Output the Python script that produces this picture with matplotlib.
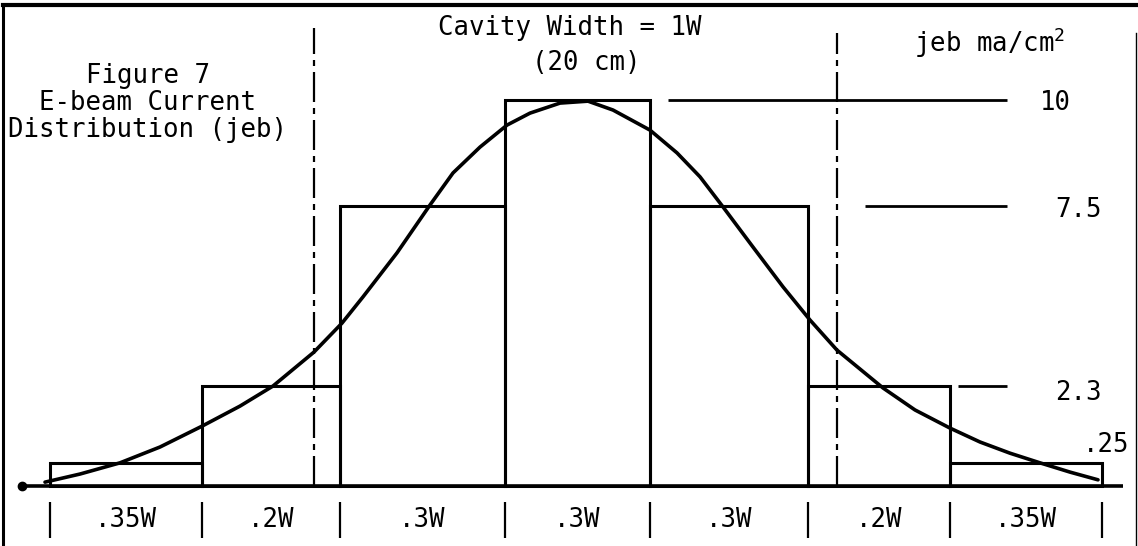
import matplotlib.pyplot as plt
import matplotlib

matplotlib.rcParams['font.family'] = 'DejaVu Sans Mono'
matplotlib.rcParams['mathtext.fontset'] = 'custom'
matplotlib.rcParams['mathtext.rm'] = 'DejaVu Sans Mono'
matplotlib.rcParams['mathtext.it'] = 'DejaVu Sans Mono'

# step edges (drawing units along the beam) and drawn step heights (ma/cm^2, as drawn)
edges = [50, 202, 340, 505, 650, 808, 950, 1102]
step_height = [0.6, 2.6, 7.25, 10.0, 7.25, 2.6, 0.6]
width_labels = ['.35W', '.2W', '.3W', '.3W', '.3W', '.2W', '.35W']

# level marks on the right
level_values = ['10', '7.5', '2.3', '.25']
level_height = [10.0, 7.25, 2.6, 0.6]

# smooth current distribution
curve_x = [45, 80, 120, 160, 202, 240, 273, 314, 342, 363, 397, 430, 453, 480,
           507, 530, 560, 588, 613, 650, 677, 700, 723, 753, 783, 810, 837, 883,
           915, 950, 980, 1010, 1040, 1070, 1098]
curve_y = [0.10, 0.31, 0.60, 1.01, 1.55, 2.07, 2.59, 3.47, 4.22, 4.90, 6.04, 7.28,
           8.11, 8.78, 9.35, 9.66, 9.92, 9.97, 9.74, 9.22, 8.63, 8.01, 7.23, 6.19,
           5.16, 4.30, 3.52, 2.54, 1.97, 1.50, 1.14, 0.85, 0.60, 0.36, 0.16]

# cavity walls (dash-dot)
cavity_x = [314, 837]

k = 38.6  # pixels per unit of height
fig = plt.figure(figsize=(11.38, 5.46), dpi=100)
ax = fig.add_axes([0, 0, 1, 1])
ax.set_xlim(0, 1138)
ax.set_ylim(-60 / k, 486 / k)
ax.axis('off')

# border (left, top, right)
fig.add_artist(plt.Line2D([0.003, 0.003], [0, 0.99], color='black', lw=2.2))
fig.add_artist(plt.Line2D([0.003, 0.998], [0.99, 0.99], color='black', lw=3))
fig.add_artist(plt.Line2D([0.998, 0.998], [0, 0.94], color='black', lw=1.0))

# steps
widths = [edges[i + 1] - edges[i] for i in range(len(edges) - 1)]
ax.bar(edges[:-1], step_height, widths, align='edge', fill=False,
       edgecolor='black', linewidth=2.2)

# baseline
ax.plot([22, 1123], [0, 0], color='black', lw=2.6, solid_capstyle='butt')
ax.plot([22], [0], 'o', color='black', ms=6)

# curve
ax.plot(curve_x, curve_y, color='black', lw=2.6, solid_joinstyle='round',
        solid_capstyle='round')

# cavity walls
ax.vlines(cavity_x, 0, [(486 - 28) / k, (486 - 33) / k], color='black', lw=1.6,
          linestyles=[(0, (13.5, 2.7, 2.7, 2.7))])

# level lines on right
level_start = [668, 865, 958]
ax.hlines(level_height[:3], level_start, 1007, color='black', lw=2.0)
label_x = [1040, 1055, 1055, 1083]
label_y = [9.92, 7.15, 2.41, 1.06]
for s, lx, ly in zip(level_values, label_x, label_y):
    ax.text(lx, ly, s, fontsize=18.5, ha='left', va='center')

# width brackets below baseline
ax.vlines(edges, -1.35, -0.42, color='black', lw=1.6)
for i, lab in enumerate(width_labels):
    ax.text((edges[i] + edges[i + 1]) / 2, -0.88, lab, fontsize=18.5,
            ha='center', va='center')

# titles
ax.text(148, 9.92, 'Figure 7\nE-beam Current\nDistribution (jeb)', fontsize=18.5,
        ha='center', va='center', multialignment='center', linespacing=1.05)
ax.text(570, 11.87, 'Cavity Width = 1W', fontsize=18.5, ha='center', va='center')
ax.text(586, 10.96, '(20 cm)', fontsize=18.5, ha='center', va='center')
ax.text(990, 11.48, 'jeb ma/cm$^2$', fontsize=18.5, ha='center', va='center')

plt.savefig('out.png', dpi=100)
